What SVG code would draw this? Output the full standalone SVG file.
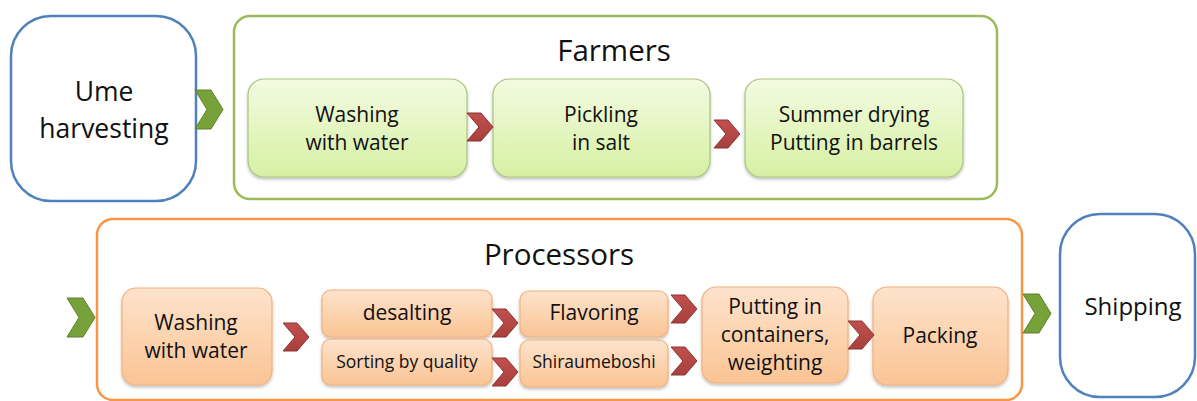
<svg xmlns="http://www.w3.org/2000/svg" width="1197" height="401" viewBox="0 0 1197 401">
<defs>
<linearGradient id="gG" x1="0" y1="0" x2="0" y2="1">
<stop offset="0" stop-color="#f3fbe2"/>
<stop offset="1" stop-color="#d6f0a2"/>
</linearGradient>
<linearGradient id="gO" x1="0" y1="0" x2="0" y2="1">
<stop offset="0" stop-color="#fde3cc"/>
<stop offset="1" stop-color="#fbc494"/>
</linearGradient>
<linearGradient id="gR" x1="0" y1="0" x2="0" y2="1">
<stop offset="0" stop-color="#c0504d"/>
<stop offset="1" stop-color="#a8403c"/>
</linearGradient>
<filter id="sh" x="-10%" y="-10%" width="120%" height="130%">
<feDropShadow dx="0" dy="2" stdDeviation="1.5" flood-color="#000" flood-opacity="0.25"/>
</filter>
<polygon id="chevR" points="0,0 14,0 26,14 14,28 0,28 12,14"/>
<polygon id="chevG" points="0,0 16,0 28,19.5 16,39 0,39 12,19.5"/>
</defs>
<style>
text{font-family:"Open Sans","Liberation Sans",sans-serif;fill:#111;text-anchor:middle}
.big{font-size:26.5px}
.title{font-size:29.5px}
.mid{font-size:21px}
.sm{font-size:17.5px}
.outerB{fill:#fff;stroke:#4f81bd;stroke-width:2.5}
.outerG{fill:#fff;stroke:#9bbb59;stroke-width:2.5}
.outerO{fill:#fff;stroke:#f79646;stroke-width:2.5}
.bG{fill:url(#gG);stroke:#a9c47a;stroke-width:1.2;filter:url(#sh)}
.bO{fill:url(#gO);stroke:#f2b07a;stroke-width:1.2;filter:url(#sh)}
.cR{fill:url(#gR);stroke:#8c3431;stroke-width:1}
.cG{fill:#77a23a;stroke:#5e7f2c;stroke-width:1}
</style>

<g id="ume">
<rect class="outerB" x="11" y="16" width="185" height="185" rx="40"/>
<text class="big" x="104" y="101">Ume</text>
<text class="big" x="104" y="138">harvesting</text>
</g>

<g id="farmers">
<rect class="outerG" x="234" y="16" width="763" height="183" rx="16"/>
<text class="title" x="614" y="61">Farmers</text>
</g>
<g id="f-wash">
<rect class="bG" x="248" y="79" width="219" height="98" rx="16"/>
<text class="mid" x="357" y="122">Washing</text>
<text class="mid" x="357" y="150">with water</text>
</g>
<g id="f-pickle">
<rect class="bG" x="493" y="79" width="217" height="98" rx="16"/>
<text class="mid" x="601" y="122">Pickling</text>
<text class="mid" x="601" y="150">in salt</text>
</g>
<g id="f-dry">
<rect class="bG" x="745" y="79" width="218" height="98" rx="16"/>
<text class="mid" x="854" y="122">Summer drying</text>
<text class="mid" x="854" y="150">Putting in barrels</text>
</g>

<g id="processors">
<rect class="outerO" x="97" y="219" width="925" height="181" rx="16"/>
<text class="title" x="559" y="265">Processors</text>
</g>
<g id="p-wash">
<rect class="bO" x="122" y="288" width="150" height="97" rx="14"/>
<text class="mid" x="196" y="330">Washing</text>
<text class="mid" x="196" y="358">with water</text>
</g>
<g id="p-desalt">
<rect class="bO" x="322" y="290" width="170" height="47" rx="9"/>
<text class="mid" x="407" y="320">desalting</text>
</g>
<g id="p-sort">
<rect class="bO" x="322" y="339" width="170" height="46" rx="9"/>
<text class="sm" x="407" y="368">Sorting by quality</text>
</g>
<g id="p-flavor">
<rect class="bO" x="520" y="291" width="148" height="46" rx="9"/>
<text class="mid" x="594" y="320">Flavoring</text>
</g>
<g id="p-shira">
<rect class="bO" x="520" y="340" width="148" height="47" rx="9"/>
<text class="sm" x="594" y="368">Shiraumeboshi</text>
</g>
<g id="p-put">
<rect class="bO" x="702" y="287" width="146" height="96" rx="14"/>
<text class="mid" x="775" y="314">Putting in</text>
<text class="mid" x="775" y="342">containers,</text>
<text class="mid" x="775" y="370">weighting</text>
</g>
<g id="p-pack">
<rect class="bO" x="873" y="287" width="135" height="98" rx="14"/>
<text class="mid" x="940" y="343">Packing</text>
</g>

<g id="shipping">
<rect class="outerB" x="1060" y="214" width="135" height="183" rx="40"/>
<text class="big" x="1133" y="315" style="font-size:24px">Shipping</text>
</g>

<g id="connectors">
<use href="#chevG" class="cG" x="195" y="90"/>
<use href="#chevR" class="cR" x="467" y="113"/>
<use href="#chevR" class="cR" x="714" y="120"/>
<use href="#chevG" class="cG" x="67" y="298"/>
<use href="#chevR" class="cR" x="283" y="323"/>
<use href="#chevR" class="cR" x="492" y="309"/>
<use href="#chevR" class="cR" x="492" y="358"/>
<use href="#chevR" class="cR" x="671" y="295"/>
<use href="#chevR" class="cR" x="671" y="347"/>
<use href="#chevR" class="cR" x="848" y="321"/>
<use href="#chevG" class="cG" x="1023" y="294"/>
</g>
</svg>
